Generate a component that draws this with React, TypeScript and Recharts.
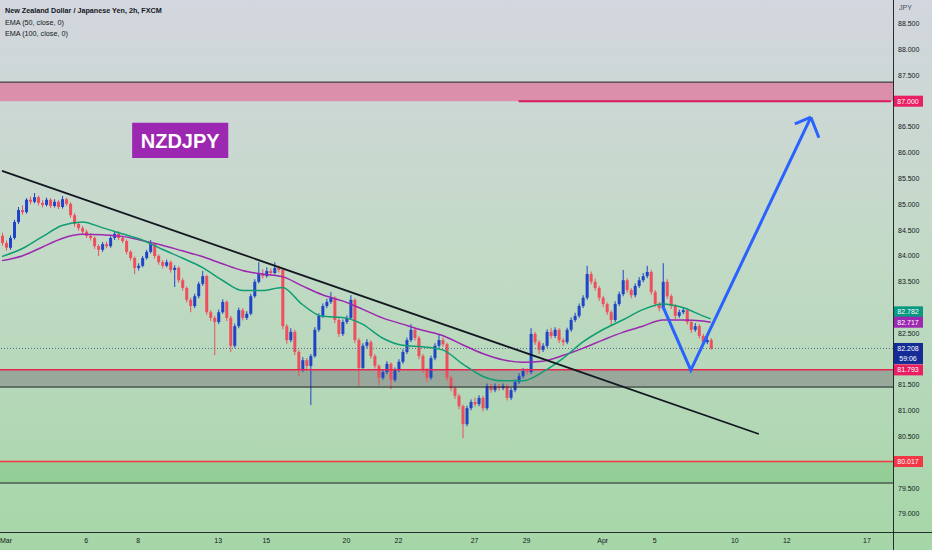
import React from "react"
import {
  ComposedChart,
  XAxis,
  YAxis,
  Bar,
  Line,
  ReferenceArea,
  ReferenceLine
} from "recharts"

const FONT = '"Liberation Sans", Arial, sans-serif'
const UP = "#1e44c8"
const DOWN = "#ef4f5c"

const title = "New Zealand Dollar / Japanese Yen, 2h, FXCM"
const legend = ["EMA (50, close, 0)", "EMA (100, close, 0)"]
const symbol = "NZDJPY"
const currency = "JPY"

// open, high, low, close (one candle every bar)
const candles: [number, number, number, number][] = [
  [84.39,84.45,84.20,84.25],[84.25,84.30,84.10,84.16],[84.16,84.40,84.12,84.35],[84.35,84.70,84.32,84.66],[84.66,84.95,84.62,84.89],[84.89,84.98,84.80,84.85],[84.85,85.12,84.82,85.09],[85.09,85.15,85.00,85.05],[85.05,85.22,85.02,85.14],[85.14,85.17,84.98,85.03],
  [85.03,85.08,84.94,84.99],[84.99,85.13,84.96,85.09],[85.09,85.12,84.93,84.97],[84.97,85.10,84.94,85.05],[85.05,85.08,84.91,84.95],[84.95,85.16,84.92,85.10],[85.10,85.13,84.97,85.01],[85.01,85.04,84.74,84.79],[84.79,84.83,84.57,84.62],[84.62,84.66,84.49,84.54],
  [84.54,84.58,84.42,84.47],[84.47,84.51,84.35,84.39],[84.39,84.44,84.30,84.35],[84.35,84.38,84.14,84.19],[84.19,84.22,84.00,84.12],[84.12,84.27,84.08,84.23],[84.23,84.28,84.15,84.19],[84.19,84.38,84.16,84.35],[84.35,84.47,84.31,84.43],[84.43,84.48,84.31,84.35],
  [84.35,84.39,84.25,84.29],[84.29,84.32,84.03,84.08],[84.08,84.11,83.91,83.96],[83.96,83.99,83.65,83.77],[83.77,83.86,83.72,83.81],[83.81,84.00,83.78,83.96],[83.96,84.12,83.93,84.08],[84.08,84.31,84.05,84.23],[84.23,84.26,83.95,84.00],[84.00,84.03,83.83,83.88],
  [83.88,83.92,83.76,83.81],[83.81,83.93,83.78,83.88],[83.88,83.91,83.68,83.73],[83.73,83.82,83.40,83.77],[83.77,83.80,83.48,83.53],[83.53,83.57,83.33,83.38],[83.38,83.41,83.10,83.15],[83.15,83.19,82.91,83.03],[83.03,83.27,82.99,83.22],[83.22,83.50,83.18,83.46],
  [83.46,83.71,83.42,83.61],[83.61,83.64,82.86,82.91],[82.91,82.95,82.74,82.80],[82.80,82.84,82.08,82.72],[82.72,82.96,82.68,82.91],[82.91,83.16,82.88,83.11],[83.11,83.14,82.74,82.80],[82.80,82.84,82.14,82.26],[82.26,82.69,82.22,82.64],[82.64,83.00,82.60,82.95],
  [82.95,82.99,82.75,82.80],[82.80,82.93,82.76,82.88],[82.88,83.27,82.85,83.22],[83.22,83.55,83.19,83.50],[83.50,83.88,83.47,83.65],[83.65,83.74,83.56,83.61],[83.61,83.78,83.58,83.71],[83.71,83.76,83.62,83.67],[83.67,83.88,83.64,83.77],[83.77,83.81,83.68,83.73],
  [83.73,83.76,82.58,82.64],[82.64,82.68,82.30,82.37],[82.37,82.60,82.33,82.53],[82.53,82.57,82.08,82.14],[82.14,82.18,81.67,81.79],[81.79,82.04,81.75,81.98],[81.98,82.02,81.80,81.87],[81.87,82.10,81.11,82.06],[82.06,82.62,82.03,82.57],[82.57,82.89,82.53,82.84],
  [82.84,83.08,82.80,83.03],[83.03,83.17,82.99,83.11],[83.11,83.30,83.07,83.19],[83.19,83.22,82.70,82.76],[82.76,82.80,82.43,82.49],[82.49,82.77,82.45,82.72],[82.72,82.85,82.68,82.80],[82.80,83.24,82.77,83.15],[83.15,83.18,82.31,82.37],[82.37,82.41,81.48,81.83],
  [81.83,82.31,81.79,82.26],[82.26,82.39,82.21,82.33],[82.33,82.37,82.01,82.06],[82.06,82.10,81.82,81.87],[81.87,81.90,81.50,81.64],[81.64,81.80,81.60,81.75],[81.75,81.96,81.71,81.91],[81.91,81.94,81.42,81.60],[81.60,81.84,81.56,81.79],[81.79,82.00,81.75,81.95],
  [81.95,82.19,81.91,82.14],[82.14,82.42,82.10,82.37],[82.37,82.68,82.33,82.57],[82.57,82.61,82.36,82.41],[82.41,82.45,82.00,82.06],[82.06,82.10,81.73,81.79],[81.79,81.83,81.56,81.64],[81.64,82.07,81.60,82.02],[82.02,82.31,81.98,82.26],[82.26,82.47,82.22,82.37],
  [82.37,82.42,82.24,82.29],[82.29,82.32,81.58,81.64],[81.64,81.68,81.38,81.44],[81.44,81.48,81.23,81.29],[81.29,81.33,81.03,81.09],[81.09,81.12,80.47,80.74],[80.74,81.10,80.70,81.05],[81.05,81.22,81.01,81.17],[81.17,81.25,81.08,81.13],[81.13,81.30,81.09,81.25],
  [81.25,81.29,80.99,81.05],[81.05,81.53,81.01,81.48],[81.48,81.52,81.35,81.40],[81.40,81.53,81.36,81.48],[81.48,81.52,81.39,81.44],[81.44,81.53,81.40,81.48],[81.48,81.51,81.20,81.25],[81.25,81.45,81.21,81.40],[81.40,81.61,81.36,81.56],[81.56,81.73,81.52,81.67],
  [81.67,81.83,81.63,81.77],[81.77,81.82,81.70,81.75],[81.75,82.60,81.71,82.49],[82.49,82.53,82.28,82.33],[82.33,82.37,82.10,82.18],[82.18,82.31,82.14,82.26],[82.26,82.58,82.22,82.53],[82.53,82.61,82.40,82.45],[82.45,82.62,82.41,82.57],[82.57,82.60,82.31,82.37],
  [82.37,82.41,82.26,82.33],[82.33,82.61,82.29,82.57],[82.57,82.81,82.53,82.76],[82.76,82.90,82.72,82.84],[82.84,83.08,82.80,83.03],[83.03,83.24,82.99,83.19],[83.19,83.81,83.15,83.65],[83.65,83.70,83.45,83.50],[83.50,83.56,83.33,83.38],[83.38,83.42,83.13,83.19],
  [83.19,83.23,83.01,83.07],[83.07,83.10,82.86,82.91],[82.91,82.95,82.64,82.76],[82.76,83.12,82.72,83.07],[83.07,83.31,83.03,83.26],[83.26,83.73,83.22,83.53],[83.53,83.57,83.29,83.34],[83.34,83.38,83.18,83.24],[83.24,83.47,83.20,83.42],[83.42,83.59,83.38,83.53],
  [83.53,83.67,83.49,83.61],[83.61,83.81,83.57,83.69],[83.69,83.73,83.25,83.30],[83.30,83.34,83.02,83.07],[83.07,83.11,82.93,82.99],[82.99,83.86,82.95,83.50],[83.50,83.55,83.17,83.22],[83.22,83.26,82.97,83.03],[83.03,83.07,82.78,82.84],[82.84,82.96,82.80,82.91],
  [82.91,83.01,82.87,82.95],[82.95,82.99,82.67,82.72],[82.72,82.76,82.51,82.57],[82.57,82.70,82.53,82.64],[82.64,82.68,82.40,82.45],[82.45,82.49,82.28,82.33],[82.33,82.42,82.29,82.37],[82.37,82.41,82.18,82.208]
]

// EMA values sampled at these bars
const emaBars = [0,5,10,15,20,25,30,35,40,45,50,55,60,65,70,75,80,85,90,95,100,105,110,115,120,125,130,135,140,145,150,155,160,165,170,175,177]
const ema50 = [83.99,84.14,84.37,84.59,84.66,84.55,84.43,84.31,84.13,83.96,83.78,83.53,83.33,83.33,83.39,83.06,82.83,82.81,82.68,82.41,82.27,82.24,82.18,81.91,81.67,81.58,81.58,81.75,82.01,82.33,82.57,82.76,82.96,83.07,83.00,82.84,82.782]
const ema100 = [83.91,84.00,84.17,84.34,84.42,84.41,84.38,84.30,84.21,84.10,83.99,83.85,83.72,83.65,83.60,83.42,83.25,83.13,82.97,82.80,82.68,82.56,82.46,82.28,82.11,81.99,81.94,81.96,82.07,82.21,82.37,82.52,82.64,82.76,82.76,82.74,82.717]

// drawings
const trendBars = [0, 189]
const trendPrices = [85.65, 80.55]
const pathBars = [165, 172, 202]
const pathPrices = [83.03, 81.79, 86.69]
const wingABars = [198, 202]
const wingAPrices = [86.56, 86.69]
const wingBBars = [202, 204]
const wingBPrices = [86.69, 86.29]

const totalBars = 223

const dateBars = [1, 21, 34, 54, 66, 86, 99, 118, 131, 150, 163, 183, 196, 216]
const dateLabels = ["Mar", "6", "8", "13", "15", "20", "22", "27", "29", "Apr", "5", "10", "12", "17"]

const priceTicks = [79, 79.5, 80.5, 81, 81.5, 82.5, 83.5, 84, 84.5, 85, 85.5, 86, 86.5, 87.5, 88, 88.5]
const priceMin = 78.651
const priceMax = 88.961

const resistanceZone = [87.0, 87.37]
const supportZone = [81.46, 81.793]
const lowerZone = [79.6, 80.017]
const targetFromBar = 129
const labelBox = { x1: 33, x2: 56, y1: 85.9, y2: 86.58 }
const lastPrice = candles[candles.length - 1][3]
const countdown = "59:06"

const rows: any[] = Array.from({ length: totalBars }, (_, i) => {
  const k = candles[i]
  return k ? { i, o: k[0], h: k[1], l: k[2], c: k[3], range: [k[2], k[1]] } : { i }
})
emaBars.forEach((b, n) => {
  rows[b].ema50 = ema50[n]
  rows[b].ema100 = ema100[n]
})
trendBars.forEach((b, n) => (rows[b].trend = trendPrices[n]))
pathBars.forEach((b, n) => (rows[b].path = pathPrices[n]))
wingABars.forEach((b, n) => (rows[b].wingA = wingAPrices[n]))
wingBBars.forEach((b, n) => (rows[b].wingB = wingBPrices[n]))

function Candle(props: any) {
  const { x, y, width, height, payload } = props
  if (payload?.o == null || y == null) return null
  const { o, h, l, c } = payload
  const top = height >= 0 ? y : y + height
  const span = Math.abs(height)
  const perUnit = h === l ? 0 : span / (h - l)
  const yO = top + (h - o) * perUnit
  const yC = top + (h - c) * perUnit
  const color = c >= o ? UP : DOWN
  const cx = x + width / 2
  return (
    <g>
      <line x1={cx} x2={cx} y1={top} y2={top + span} stroke={color} strokeWidth={1} />
      <rect
        x={x}
        y={Math.min(yO, yC)}
        width={width}
        height={Math.max(1, Math.abs(yO - yC))}
        fill={color}
      />
    </g>
  )
}

function Badge({ vb, text, sub, fill, nudge = 0 }: any) {
  if (!vb) return null
  const x = vb.x + vb.width
  const h = sub ? 21 : 11
  const top = vb.y - 5.5 + nudge
  return (
    <g fontFamily={FONT} fontSize={7}>
      <rect x={x} y={top} width={30} height={h} fill={fill} />
      <text x={x + 15} y={top + 8} textAnchor="middle" fill="#fff">
        {text}
      </text>
      {sub && (
        <text x={x + 15} y={top + 18} textAnchor="middle" fill="#fff">
          {sub}
        </text>
      )}
    </g>
  )
}

const badge = (text: string, fill: string, sub?: string, nudge?: number) => ({
  content: (p: any) => (
    <Badge vb={p.viewBox || p} text={text} sub={sub} fill={fill} nudge={nudge} />
  )
})

const lineProps = {
  dot: false,
  activeDot: false,
  connectNulls: true,
  isAnimationActive: false
} as const

export default function App() {
  return (
    <div
      style={{
        position: "absolute",
        left: 0,
        top: 0,
        width: 932,
        height: 550,
        overflow: "hidden",
        fontFamily: FONT,
        background: "linear-gradient(180deg, #d3d6de 0%, #c3dac7 45%, #a5d6a7 100%)"
      }}
    >
      <ComposedChart
        width={932}
        height={550}
        data={rows}
        margin={{ top: 0, right: 0, bottom: 0, left: 0 }}
      >
        <XAxis
          dataKey="i"
          type="category"
          height={18}
          ticks={dateBars}
          interval={0}
          axisLine={false}
          tickLine={false}
          tickSize={4}
          tickMargin={2}
          tick={{ fontSize: 7, fill: "#131722", fontFamily: FONT }}
          tickFormatter={(v) => dateLabels[dateBars.indexOf(Number(v))] ?? ""}
        />
        <YAxis
          orientation="right"
          width={39}
          type="number"
          domain={[priceMin, priceMax]}
          allowDataOverflow
          ticks={priceTicks}
          axisLine={false}
          tickLine={false}
          tickSize={2}
          tickMargin={3}
          tick={{ fontSize: 7, fill: "#131722", fontFamily: FONT }}
          tickFormatter={(v) => Number(v).toFixed(3)}
        />

        <ReferenceArea y1={resistanceZone[0]} y2={resistanceZone[1]} fill="#dc8fab" fillOpacity={1} stroke="none" />
        <ReferenceArea y1={supportZone[0]} y2={supportZone[1]} fill="#98a99b" fillOpacity={1} stroke="none" />
        <ReferenceArea y1={lowerZone[0]} y2={lowerZone[1]} fill="#8fcc91" fillOpacity={0.8} stroke="none" />

        <ReferenceLine y={resistanceZone[1]} stroke="#1f2326" strokeWidth={1} />
        <ReferenceLine y={supportZone[0]} stroke="#1f2326" strokeWidth={1} />
        <ReferenceLine y={lowerZone[0]} stroke="#1f2326" strokeWidth={1} />
        <ReferenceLine
          segment={[
            { x: targetFromBar, y: resistanceZone[0] },
            { x: totalBars - 1, y: resistanceZone[0] }
          ]}
          stroke="#d81b60"
          strokeWidth={2}
        />
        <ReferenceLine y={supportZone[1]} stroke="#e8254f" strokeWidth={1.5} />
        <ReferenceLine y={lowerZone[1]} stroke="#f23645" strokeWidth={1.5} />
        <ReferenceLine y={lastPrice} stroke="#5d6c8f" strokeWidth={1} strokeDasharray="1 2" />

        <ReferenceArea
          x1={labelBox.x1}
          x2={labelBox.x2}
          y1={labelBox.y1}
          y2={labelBox.y2}
          fill="#9c27b0"
          fillOpacity={1}
          stroke="none"
          label={{
            content: (p: any) => {
              const vb = p.viewBox || p
              return (
                <text
                  x={vb.x + vb.width / 2}
                  y={vb.y + vb.height / 2}
                  dy="0.36em"
                  textAnchor="middle"
                  fill="#ffffff"
                  fontSize={20}
                  fontWeight={700}
                  fontFamily={FONT}
                >
                  {symbol}
                </text>
              )
            }
          }}
        />

        <Line dataKey="ema100" type="monotone" stroke="#9c27b0" strokeWidth={1.5} {...lineProps} />
        <Line dataKey="ema50" type="monotone" stroke="#0f9d74" strokeWidth={1.5} {...lineProps} />

        <Bar
          dataKey="range"
          barSize={3}
          shape={(p: any) => <Candle {...p} />}
          activeBar={false}
          isAnimationActive={false}
        />

        <Line dataKey="trend" type="linear" stroke="#131722" strokeWidth={1.8} {...lineProps} />
        <Line dataKey="path" type="linear" stroke="#2962ff" strokeWidth={3} {...lineProps} />
        <Line dataKey="wingA" type="linear" stroke="#2962ff" strokeWidth={3} {...lineProps} />
        <Line dataKey="wingB" type="linear" stroke="#2962ff" strokeWidth={3} {...lineProps} />

        <ReferenceLine y={resistanceZone[0]} stroke="none" label={badge(resistanceZone[0].toFixed(3), "#e91e63")} />
        <ReferenceLine y={ema50[ema50.length - 1]} stroke="none" label={badge(ema50[ema50.length - 1].toFixed(3), "#089981", undefined, -7)} />
        <ReferenceLine y={ema100[ema100.length - 1]} stroke="none" label={badge(ema100[ema100.length - 1].toFixed(3), "#9c27b0")} />
        <ReferenceLine y={lastPrice} stroke="none" label={badge(lastPrice.toFixed(3), "#142d96", countdown)} />
        <ReferenceLine y={supportZone[1]} stroke="none" label={badge(supportZone[1].toFixed(3), "#e91e63")} />
        <ReferenceLine y={lowerZone[1]} stroke="none" label={badge(lowerZone[1].toFixed(3), "#f23645")} />
      </ComposedChart>

      <div style={{ position: "absolute", left: 893, top: 0, width: 1, height: 550, background: "#262b2e" }} />
      <div style={{ position: "absolute", left: 0, top: 532, width: 932, height: 1, background: "#262b2e" }} />

      <div
        style={{
          position: "absolute",
          left: 5,
          top: 5,
          fontSize: 8,
          lineHeight: "11.5px",
          color: "#131722",
          transform: "scaleX(0.9)",
          transformOrigin: "left top",
          whiteSpace: "nowrap"
        }}
      >
        <div style={{ fontWeight: 700 }}>{title}</div>
        <div>{legend[0]}</div>
        <div>{legend[1]}</div>
      </div>
      <div style={{ position: "absolute", left: 899, top: 4, fontSize: 7, color: "#4a4f5a" }}>{currency}</div>
    </div>
  )
}
